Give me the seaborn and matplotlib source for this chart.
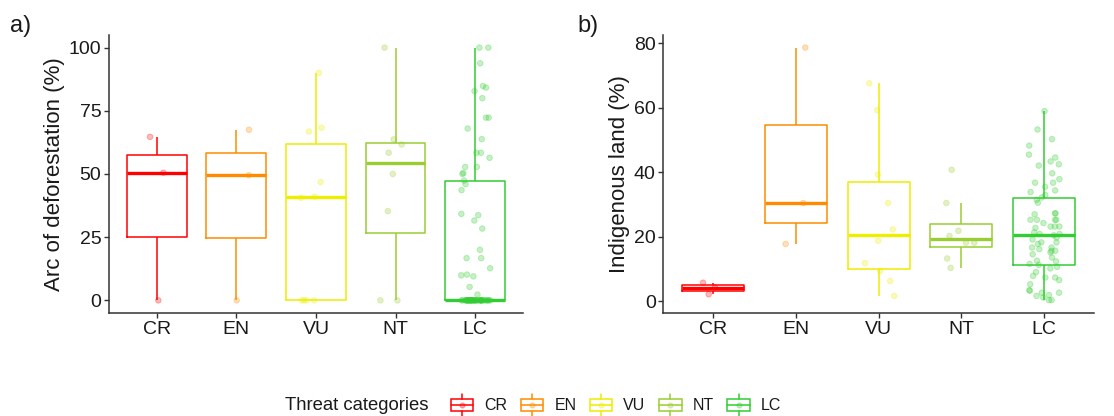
import numpy as np
import pandas as pd
import matplotlib
matplotlib.use("Agg")
import matplotlib.pyplot as plt
import seaborn as sns
from matplotlib.legend_handler import HandlerBase
from matplotlib.patches import Rectangle
from matplotlib.lines import Line2D

# ---------------- data ----------------
categories = ["CR", "EN", "VU", "NT", "LC"]
colors = ["#FF0000", "#FF8C00", "#EEEE00", "#9ACD32", "#32CD32"]

# panel a: Arc of deforestation (%)
defor_CR = [0.0, 50.5, 64.7]
defor_EN = [0.0, 49.5, 67.5]
defor_VU = [0.0, 0.0, 0.0, 0.0, 40.6, 41.0, 46.8, 66.8, 68.3, 90.0]
defor_NT = [0.0, 0.0, 35.3, 50.0, 58.4, 61.7, 63.7, 100.0]
defor_LC = [0.0, 0.0, 0.0, 0.0, 0.0, 0.0, 0.0, 0.0, 0.0, 0.0,
            0.0, 0.0, 0.0, 0.0, 0.0, 0.0, 0.0, 0.0, 0.0, 0.0,
            0.0, 0.0, 0.0, 0.0, 0.0, 0.0, 0.0, 0.0, 0.0, 0.0,
            0.0, 0.0, 0.0, 0.0, 0.0, 0.0, 0.0, 0.0, 0.0,
            2.3, 5.3, 9.5, 9.9, 10.2, 12.7, 16.7, 16.7, 20.0, 28.4,
            31.6, 33.7, 34.2, 43.6, 46.0, 47.4, 50.0, 50.4, 52.8, 52.8,
            56.4, 58.4, 58.4, 63.8, 68.0, 72.3, 72.3, 80.0, 82.8, 84.2,
            84.8, 93.8, 100.0, 100.0]

# panel b: Indigenous land (%)
indig_CR = [2.2, 4.3, 5.8]
indig_EN = [17.8, 30.5, 78.7]
indig_VU = [1.7, 6.3, 9.4, 11.9, 18.8, 22.3, 30.5, 39.3, 59.3, 67.6]
indig_NT = [10.4, 13.3, 18.2, 18.2, 20.3, 21.9, 30.5, 40.8]
indig_LC = [0.4, 0.4, 1.2, 1.7, 2.0, 2.7, 2.7, 3.3, 3.5, 5.3,
            6.6, 7.4, 7.4, 7.9, 9.1, 10.2, 10.7,
            11.3, 11.6, 12.4, 12.6, 13.6, 14.6, 15.2, 15.7, 15.7, 16.2,
            16.7, 16.7, 17.8, 18.3, 18.3, 19.2, 19.8, 20.5,
            20.9, 20.9, 21.4, 22.8, 23.2, 23.2, 23.2, 24.3, 25.3, 25.3,
            25.3, 25.3, 27.0, 27.3, 27.3, 30.6, 31.5, 32.2,
            33.0, 33.9, 34.4, 35.5, 36.8, 36.8, 37.9, 39.7, 42.1, 42.5,
            43.4, 44.6, 45.5, 48.3, 50.3, 53.3, 59.0]

yticks_a = [0, 25, 50, 75, 100]
yticks_b = [0, 20, 40, 60, 80]


def long_df(groups):
    rows = []
    for cat, vals in zip(categories, groups):
        rows += [(cat, v) for v in vals]
    return pd.DataFrame(rows, columns=["cat", "val"])


df_a = long_df([defor_CR, defor_EN, defor_VU, defor_NT, defor_LC])
df_b = long_df([indig_CR, indig_EN, indig_VU, indig_NT, indig_LC])

# ---------------- style ----------------
sns.set_theme(style="white")
plt.rcParams["font.family"] = ["Liberation Sans", "DejaVu Sans"]
palette = dict(zip(categories, colors))
text_col = "#1A1A1A"
axis_col = "#333333"

fig = plt.figure(figsize=(11.14, 4.16), dpi=100)
ax_a = fig.add_axes([0.0978, 0.2476, 0.3716, 0.6683])
ax_b = fig.add_axes([0.5956, 0.2476, 0.3861, 0.6683])

np.random.seed(3)


def draw(ax, df, ylabel, yticks, ylim):
    sns.boxplot(data=df, x="cat", y="val", hue="cat", order=categories,
                hue_order=categories, palette=palette, fill=False, width=0.75,
                showfliers=False, showcaps=False, linewidth=1.1,
                medianprops={"linewidth": 2.4}, legend=False, ax=ax, zorder=2)
    n_before = len(ax.collections)
    sns.stripplot(data=df, x="cat", y="val", hue="cat", order=categories,
                  hue_order=categories, palette=palette, jitter=0.2,
                  alpha=0.28, size=4.0, linewidth=0, legend=False, ax=ax,
                  zorder=3)
    for coll in ax.collections[n_before:]:
        coll.set_edgecolor(coll.get_facecolor())
        coll.set_linewidth(0.7)
    ax.set_xlim(-0.6, 4.6)
    ax.set_ylim(*ylim)
    ax.set_yticks(yticks)
    ax.set_xlabel("")
    ax.set_ylabel(ylabel, fontsize=16, color=text_col, labelpad=3)
    for s in ["top", "right"]:
        ax.spines[s].set_visible(False)
    for s in ["left", "bottom"]:
        ax.spines[s].set_color(axis_col)
        ax.spines[s].set_linewidth(1.1)
    ax.tick_params(axis="both", length=3.5, width=1.0, color=axis_col,
                   labelsize=14, labelcolor=text_col, pad=2,
                   bottom=True, left=True)
    ax.grid(False)


draw(ax_a, df_a, "Arc of deforestation (%)", yticks_a, (-5, 105))
draw(ax_b, df_b, "Indigenous land (%)", yticks_b, (-3.6, 82.6))

fig.text(10 / 1114, 1 - 26 / 416, "a)", fontsize=17,
         va="center", ha="left", color=text_col)
fig.text(577 / 1114, 1 - 26 / 416, "b)", fontsize=17,
         va="center", ha="left", color=text_col)


# ---------------- legend ----------------
class BoxKey(HandlerBase):
    def create_artists(self, legend, orig_handle, xdescent, ydescent,
                       width, height, fontsize, trans):
        c = orig_handle.get_color()
        x0, y0 = -xdescent, -ydescent
        xc = x0 + width / 2
        bl, bh = y0 + height * 0.2, height * 0.6
        arts = [
            Rectangle((x0, bl), width, bh, fill=False, edgecolor=c, lw=1.1,
                      transform=trans),
            Line2D([x0, x0 + width], [bl + bh / 2] * 2, color=c, lw=1.1,
                   transform=trans),
            Line2D([xc, xc], [y0 - height * 0.05, bl], color=c, lw=1.1,
                   transform=trans),
            Line2D([xc, xc], [bl + bh, y0 + height * 1.05], color=c, lw=1.1,
                   transform=trans),
            Line2D([xc], [bl + bh / 2], marker="o", ms=3.5, color=c,
                   alpha=0.3, lw=0, transform=trans),
        ]
        return arts


handles = [Line2D([], [], color=c) for c in colors]
fig.legend(handles, categories, handler_map={Line2D: BoxKey()},
           loc="center", bbox_to_anchor=(616 / 1114, 0.026), ncol=5,
           frameon=False, fontsize=11.5, handlelength=1.4, handleheight=1.5,
           handletextpad=0.7, columnspacing=0.85, labelcolor=text_col)
fig.text(285 / 1114, 0.026, "Threat categories", fontsize=13.3,
         va="center", ha="left", color=text_col)

fig.savefig("out.png", dpi=100)
